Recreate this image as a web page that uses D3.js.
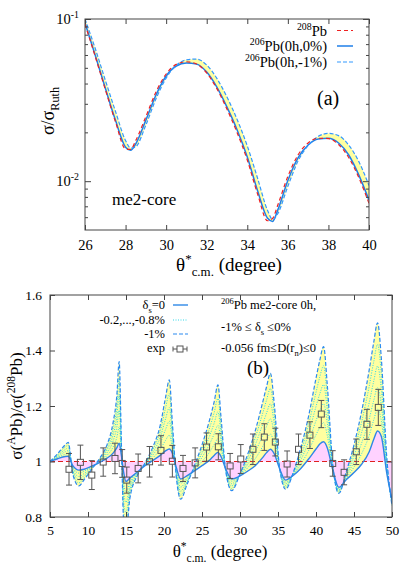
<!DOCTYPE html>
<html><head><meta charset="utf-8">
<script src="https://cdn.jsdelivr.net/npm/d3@7"></script>
<style>
body{margin:0;background:#fff}
svg{display:block}
svg text{font-family:Liberation Serif, Tinos, DejaVu Serif, serif;fill:#000}
</style>
</head><body>
<svg id="c" width="415" height="571"></svg>
<script>
// ---------------- Panel (a) data ----------------
const thetaA = [26,26.5,27,27.5,28,28.25,28.5,29,29.5,30,30.5,31,31.5,32,32.5,33,33.5,34,34.5,35,35.25,35.5,36,36.5,37,37.5,38,38.5,39,39.5,40];
const pb208A = [0.093,0.059,0.0368,0.0233,0.0158,0.0157,0.0178,0.0250,0.0355,0.0458,0.0525,0.0545,0.0528,0.0465,0.0372,0.0278,0.0199,0.0135,0.0084,0.0057,0.0059,0.0071,0.0107,0.0145,0.0172,0.0184,0.0183,0.0168,0.0140,0.0105,0.0073];
const pb206_0A = [0.0945,0.0600,0.0375,0.0238,0.0162,0.0155,0.0170,0.0238,0.0340,0.0445,0.0513,0.0535,0.0527,0.0471,0.0380,0.0286,0.0207,0.0141,0.00879,0.00590,0.00565,0.00663,0.0101,0.0139,0.0167,0.0182,0.0184,0.0172,0.0145,0.0109,0.00764];
const pb206_m1A = [0.100,0.066,0.042,0.027,0.0178,0.0160,0.0163,0.0222,0.0322,0.0432,0.0518,0.0560,0.0566,0.0520,0.0430,0.0330,0.0240,0.0165,0.0105,0.0066,0.0058,0.0063,0.0093,0.0133,0.0166,0.0189,0.0197,0.0191,0.0167,0.0132,0.0094];
const xTicksA = [26,28,30,32,34,36,38,40];
const yMajorA = [0.01,0.1];
const yMajorExpA = ["-2","-1"];
const yMinorA = [0.006,0.007,0.008,0.009,0.02,0.03,0.04,0.05,0.06,0.07,0.08,0.09];

// ---------------- Panel (b) data ----------------
const thetaB = [5,6,7,7.4,8,8.8,9.5,10.5,11.5,12.5,13.3,13.8,14.1,14.4,14.7,15.0,15.5,16.5,17.5,18.5,19.5,20.2,20.7,21.1,21.6,22.2,23,24,25,26,26.6,27.1,27.5,28.1,28.9,30,31,32,33,33.5,34,34.5,35.2,36,37,38,39,40,40.5,41,41.5,42.2,43,44,45,46,47,47.6,48.1,48.6,49.3,50];
const ratio0 = [1.000,1.010,1.018,1.019,0.985,0.969,0.972,0.983,0.996,1.012,1.030,1.050,1.066,1.020,0.960,0.928,0.940,0.962,0.985,1.003,1.022,1.038,1.045,1.030,0.980,0.937,0.948,0.966,0.985,1.005,1.022,1.033,1.018,0.975,0.937,0.948,0.965,0.985,1.015,1.032,1.044,1.028,0.975,0.933,0.950,0.975,1.008,1.045,1.063,1.071,1.048,0.970,0.907,0.935,0.960,0.990,1.035,1.080,1.110,1.090,0.960,0.862];
const ratio02 = [1.000,1.014,1.026,1.029,0.979,0.958,0.965,0.981,0.999,1.022,1.052,1.088,1.125,1.028,0.924,0.890,0.925,0.960,0.987,1.012,1.044,1.076,1.095,1.052,0.974,0.922,0.941,0.970,1.000,1.034,1.061,1.082,1.046,0.974,0.929,0.949,0.977,1.010,1.055,1.080,1.099,1.064,0.976,0.926,0.952,0.990,1.038,1.096,1.123,1.140,1.092,0.974,0.903,0.941,0.980,1.028,1.094,1.150,1.188,1.146,0.972,0.858];
const ratio04 = [1.000,1.017,1.035,1.039,0.973,0.946,0.957,0.979,1.002,1.031,1.074,1.126,1.184,1.036,0.888,0.853,0.910,0.957,0.989,1.022,1.065,1.115,1.145,1.074,0.968,0.908,0.935,0.974,1.015,1.063,1.099,1.130,1.075,0.973,0.920,0.951,0.989,1.035,1.095,1.127,1.154,1.101,0.977,0.920,0.954,1.005,1.069,1.147,1.184,1.208,1.137,0.978,0.898,0.947,1.000,1.066,1.153,1.220,1.266,1.202,0.984,0.853];
const ratio06 = [1.000,1.021,1.043,1.049,0.967,0.935,0.950,0.976,1.004,1.041,1.096,1.164,1.242,1.044,0.852,0.815,0.895,0.955,0.991,1.031,1.087,1.153,1.194,1.096,0.962,0.893,0.928,0.977,1.030,1.092,1.138,1.179,1.103,0.972,0.912,0.952,1.001,1.060,1.135,1.175,1.208,1.137,0.978,0.913,0.956,1.020,1.099,1.198,1.244,1.277,1.181,0.982,0.894,0.953,1.020,1.104,1.212,1.290,1.344,1.258,0.996,0.849];
const ratio08 = [1.000,1.024,1.052,1.059,0.961,0.923,0.942,0.974,1.007,1.050,1.118,1.202,1.301,1.052,0.816,0.778,0.880,0.952,0.993,1.041,1.108,1.192,1.244,1.118,0.956,0.879,0.922,0.981,1.045,1.121,1.176,1.227,1.132,0.971,0.903,0.954,1.013,1.085,1.175,1.222,1.263,1.174,0.979,0.907,0.958,1.035,1.130,1.249,1.305,1.345,1.226,0.986,0.889,0.959,1.040,1.142,1.271,1.360,1.422,1.314,1.008,0.844];
const ratio1 = [1.000,1.028,1.060,1.069,0.955,0.912,0.935,0.972,1.010,1.060,1.140,1.240,1.360,1.060,0.780,0.740,0.865,0.950,0.995,1.050,1.130,1.230,1.294,1.140,0.950,0.864,0.915,0.985,1.060,1.150,1.215,1.276,1.160,0.970,0.895,0.955,1.025,1.110,1.215,1.270,1.318,1.210,0.980,0.900,0.960,1.050,1.160,1.300,1.365,1.414,1.270,0.990,0.885,0.965,1.060,1.180,1.330,1.430,1.500,1.370,1.020,0.840];
const expTheta = [7.5,9.0,10.5,12.0,13.55,14.5,15.1,16.6,18.1,19.6,21.1,22.5,24.1,25.6,27.15,28.7,30.1,31.7,33.2,34.65,36.2,37.7,39.2,40.7,42.2,43.7,45.3,46.7,48.2];
const expRatio = [0.972,0.997,0.951,0.998,1.011,0.993,0.933,0.975,0.999,1.040,1.001,0.975,0.995,1.052,1.053,0.984,1.009,1.044,1.088,1.070,0.991,1.044,1.095,1.171,0.993,0.961,1.035,1.134,1.195];
const expErr = [0.057,0.062,0.052,0.051,0.055,0.050,0.047,0.052,0.055,0.053,0.057,0.047,0.054,0.051,0.047,0.045,0.052,0.055,0.048,0.050,0.047,0.055,0.048,0.049,0.046,0.045,0.046,0.054,0.065];
const xTicksB = [5,10,15,20,25,30,35,40,45,50];
const yTicksB = [0.8,1.0,1.2,1.4,1.6];
const yTickLabelsB = ["0.8","1","1.2","1.4","1.6"];

// ---------------- helpers ----------------
const FONT = "Liberation Serif, Tinos, DejaVu Serif, serif";
const svg = d3.select("#c");
const AXC = "#444";

function rich(parent, x, y, parts, size, anchor, transform) {
  const t = parent.append("text").attr("x", x).attr("y", y)
    .style("font-family", FONT)
    .attr("font-size", size).attr("text-anchor", anchor || "start");
  if (transform) t.attr("transform", transform);
  let shift = 0;
  parts.forEach(([s, type]) => {
    const target = type === "sup" ? -0.4 * size : type === "sub" ? 0.28 * size : 0;
    const fs = type === "n" ? size : size * 0.68;
    t.append("tspan").attr("dy", (target - shift).toFixed(2)).attr("font-size", fs).text(s);
    shift = target;
  });
  return t;
}
function plain(parent, x, y, s, size, anchor) {
  return parent.append("text").attr("x", x).attr("y", y).style("font-family", FONT)
    .attr("font-size", size).attr("text-anchor", anchor || "start").text(s);
}
function styleAxis(g, size) {
  g.attr("font-family", null).attr("font-size", size);
  g.select(".domain").remove();
  g.selectAll(".tick line").attr("stroke", AXC);
  g.selectAll(".tick text").attr("fill", "#000").style("font-family", FONT);
}

// ================= Panel (a) =================
const xA = d3.scaleLinear().domain([26, 40]).range([85, 369]);
const yA = d3.scaleLog().domain([0.005, 0.1]).range([230, 19]);
const gA = svg.append("g");
gA.append("clipPath").attr("id", "clipA").append("rect")
  .attr("x", 85).attr("y", 19).attr("width", 284).attr("height", 211);
const idxA = d3.range(thetaA.length);
const pA = gA.append("g").attr("clip-path", "url(#clipA)");
pA.append("path").datum(idxA)
  .attr("d", d3.area().x(i => xA(thetaA[i])).y0(i => yA(pb206_0A[i])).y1(i => yA(pb206_m1A[i])).curve(d3.curveMonotoneX))
  .attr("fill", "#ffffa0").attr("stroke", "none");
const lineA = arr => d3.line().x(i => xA(thetaA[i])).y(i => yA(arr[i])).curve(d3.curveMonotoneX)(idxA);
pA.append("path").attr("d", lineA(pb206_0A)).attr("fill", "none").attr("stroke", "#1f7fe8").attr("stroke-width", 1.5);
pA.append("path").attr("d", lineA(pb206_m1A)).attr("fill", "none").attr("stroke", "#3399ff").attr("stroke-width", 1.2).attr("stroke-dasharray", "4,2");
pA.append("path").attr("d", lineA(pb208A)).attr("fill", "none").attr("stroke", "#ee2222").attr("stroke-width", 1.2).attr("stroke-dasharray", "4,3");

// axes (a)
styleAxis(gA.append("g").attr("transform", "translate(0,230)")
  .call(d3.axisBottom(xA).tickValues(xTicksA).tickSizeInner(-5).tickSizeOuter(0).tickPadding(10).tickFormat(d3.format("d"))), 14.5);
styleAxis(gA.append("g").attr("transform", "translate(0,19)")
  .call(d3.axisTop(xA).tickValues(xTicksA).tickSizeInner(-5).tickSizeOuter(0).tickFormat(() => "")), 14);
[[85, d3.axisLeft], [369, d3.axisRight]].forEach(([x, ax]) => {
  styleAxis(gA.append("g").attr("transform", `translate(${x},0)`)
    .call(ax(yA).tickValues(yMinorA).tickSizeInner(-3).tickSizeOuter(0).tickFormat(() => "")), 14);
  styleAxis(gA.append("g").attr("transform", `translate(${x},0)`)
    .call(ax(yA).tickValues(yMajorA).tickSizeInner(-6).tickSizeOuter(0).tickFormat(() => "")), 14);
});
yMajorA.forEach((v, i) => rich(gA, 79, yA(v) + 5, [["10", "n"], [yMajorExpA[i], "sup"]], 14.5, "end"));
gA.append("rect").attr("x", 85).attr("y", 19).attr("width", 284).attr("height", 211)
  .attr("fill", "none").attr("stroke", AXC).attr("stroke-width", 1);

// titles (a)
rich(gA, 229, 271, [["θ", "n"], ["*", "sup"], ["c.m.", "sub"], [" (degree)", "n"]], 19, "middle");
rich(gA, 0, 0, [["σ/σ", "n"], ["Ruth", "sub"]], 18, "middle", "translate(54,111) rotate(-90)");
plain(gA, 112, 205, "me2-core", 17);
plain(gA, 317, 105, "(a)", 20);

// legend (a)
const legA = [
  {parts: [["208", "sup"], ["Pb", "n"]], y: 30.5, color: "#ee2222", dash: "4,3", w: 1.2},
  {parts: [["206", "sup"], ["Pb(0h,0%)", "n"]], y: 46, color: "#1f7fe8", dash: null, w: 1.5},
  {parts: [["206", "sup"], ["Pb(0h,-1%)", "n"]], y: 62, color: "#3399ff", dash: "4,2", w: 1.2}
];
legA.forEach(l => {
  rich(gA, 327, l.y + 5, l.parts, 14.5, "end");
  const ln = gA.append("line").attr("x1", 337).attr("x2", 353).attr("y1", l.y).attr("y2", l.y)
    .attr("stroke", l.color).attr("stroke-width", l.w);
  if (l.dash) ln.attr("stroke-dasharray", l.dash);
});

// ================= Panel (b) =================
const xB = d3.scaleLinear().domain([5, 50]).range([50, 392]);
const yB = d3.scaleLinear().domain([0.8, 1.6]).range([517, 295]);
const gB = svg.append("g");
gB.append("clipPath").attr("id", "clipB").append("rect")
  .attr("x", 50).attr("y", 295).attr("width", 342).attr("height", 222);
const idxB = d3.range(thetaB.length);
const pB = gB.append("g").attr("clip-path", "url(#clipB)");
pB.append("path").datum(idxB)
  .attr("d", d3.area().x(i => xB(thetaB[i])).y0(() => yB(1)).y1(i => yB(ratio0[i])).curve(d3.curveMonotoneX))
  .attr("fill", "#ffd2ff").attr("stroke", "none");
pB.append("path").datum(idxB)
  .attr("d", d3.area().x(i => xB(thetaB[i])).y0(i => yB(ratio0[i])).y1(i => yB(ratio1[i])).curve(d3.curveMonotoneX))
  .attr("fill", "#ffffa0").attr("stroke", "none");
const lineB = arr => d3.line().x(i => xB(thetaB[i])).y(i => yB(arr[i])).curve(d3.curveMonotoneX)(idxB);
pB.append("line").attr("x1", xB(5)).attr("x2", xB(50)).attr("y1", yB(1)).attr("y2", yB(1))
  .attr("stroke", "#e02020").attr("stroke-width", 1.2).attr("stroke-dasharray", "5,3");
[ratio02, ratio04, ratio06, ratio08].forEach(arr => {
  pB.append("path").attr("d", lineB(arr)).attr("fill", "none").attr("stroke", "#30d8e8")
    .attr("stroke-width", 1).attr("stroke-dasharray", "1,1.5");
});
pB.append("path").attr("d", lineB(ratio1)).attr("fill", "none").attr("stroke", "#2a8af0").attr("stroke-width", 1.2).attr("stroke-dasharray", "4,2");
pB.append("path").attr("d", lineB(ratio0)).attr("fill", "none").attr("stroke", "#2f86e6").attr("stroke-width", 1.4);

// experimental points
const EXC = "#555";
expTheta.forEach((t, i) => {
  const x = xB(t), y = yB(expRatio[i]), y1 = yB(expRatio[i] + expErr[i]), y2 = yB(expRatio[i] - expErr[i]);
  gB.append("line").attr("x1", x).attr("x2", x).attr("y1", y1).attr("y2", y - 3).attr("stroke", EXC).attr("stroke-width", 1);
  gB.append("line").attr("x1", x).attr("x2", x).attr("y1", y + 3).attr("y2", y2).attr("stroke", EXC).attr("stroke-width", 1);
  gB.append("line").attr("x1", x - 3).attr("x2", x + 3).attr("y1", y1).attr("y2", y1).attr("stroke", EXC).attr("stroke-width", 1);
  gB.append("line").attr("x1", x - 3).attr("x2", x + 3).attr("y1", y2).attr("y2", y2).attr("stroke", EXC).attr("stroke-width", 1);
  gB.append("rect").attr("x", x - 3).attr("y", y - 3).attr("width", 6).attr("height", 6)
    .attr("fill", "none").attr("stroke", EXC).attr("stroke-width", 1);
});

// axes (b)
styleAxis(gB.append("g").attr("transform", "translate(0,517)")
  .call(d3.axisBottom(xB).tickValues(xTicksB).tickSizeInner(-5).tickSizeOuter(0).tickPadding(8).tickFormat(d3.format("d"))), 13.5);
styleAxis(gB.append("g").attr("transform", "translate(0,295)")
  .call(d3.axisTop(xB).tickValues(xTicksB).tickSizeInner(-5).tickSizeOuter(0).tickFormat(() => "")), 13.5);
styleAxis(gB.append("g").attr("transform", "translate(50,0)")
  .call(d3.axisLeft(yB).tickValues(yTicksB).tickSizeInner(-5).tickSizeOuter(0).tickPadding(8).tickFormat((d, i) => yTickLabelsB[i])), 13.5);
styleAxis(gB.append("g").attr("transform", "translate(392,0)")
  .call(d3.axisRight(yB).tickValues(yTicksB).tickSizeInner(-5).tickSizeOuter(0).tickFormat(() => "")), 13.5);
gB.append("rect").attr("x", 50).attr("y", 295).attr("width", 342).attr("height", 222)
  .attr("fill", "none").attr("stroke", AXC).attr("stroke-width", 1);

// titles (b)
rich(gB, 220, 557, [["θ", "n"], ["*", "sup"], ["c.m.", "sub"], [" (degree)", "n"]], 17, "middle");
rich(gB, 0, 0, [["σ(", "n"], ["A", "sup"], ["Pb)/σ(", "n"], ["208", "sup"], ["Pb)", "n"]], 17, "middle", "translate(22,406) rotate(-90)");
plain(gB, 247, 374, "(b)", 19);

// legend (b)
const LB = 12.5;
rich(gB, 165, 309, [["δ", "n"], ["s", "sub"], ["=0", "n"]], LB, "end");
gB.append("line").attr("x1", 173).attr("x2", 188).attr("y1", 305).attr("y2", 305).attr("stroke", "#3d90e8").attr("stroke-width", 1.5);
plain(gB, 165, 324, "-0.2,...,-0.8%", LB, "end");
gB.append("line").attr("x1", 173).attr("x2", 188).attr("y1", 320).attr("y2", 320).attr("stroke", "#30d8e8").attr("stroke-width", 1).attr("stroke-dasharray", "1,1.5");
plain(gB, 165, 338, "-1%", LB, "end");
gB.append("line").attr("x1", 173).attr("x2", 188).attr("y1", 334).attr("y2", 334).attr("stroke", "#2a8af0").attr("stroke-width", 1.2).attr("stroke-dasharray", "4,2");
plain(gB, 165, 352, "exp", LB, "end");
gB.append("line").attr("x1", 173).attr("x2", 177).attr("y1", 349).attr("y2", 349).attr("stroke", EXC);
gB.append("line").attr("x1", 183).attr("x2", 187).attr("y1", 349).attr("y2", 349).attr("stroke", EXC);
gB.append("line").attr("x1", 173).attr("x2", 173).attr("y1", 346.5).attr("y2", 351.5).attr("stroke", EXC);
gB.append("line").attr("x1", 187).attr("x2", 187).attr("y1", 346.5).attr("y2", 351.5).attr("stroke", EXC);
gB.append("rect").attr("x", 177).attr("y", 346).attr("width", 6).attr("height", 6).attr("fill", "none").attr("stroke", EXC);

rich(gB, 221, 309, [["206", "sup"], ["Pb me2-core 0h,", "n"]], LB, "start");
rich(gB, 221, 331, [["-1% ≤ δ", "n"], ["s", "sub"], [" ≤0%", "n"]], LB, "start");
rich(gB, 221, 352, [["-0.056 fm≤D(r", "n"], ["n", "sub"], [")≤0", "n"]], LB, "start");
</script>
</body></html>
